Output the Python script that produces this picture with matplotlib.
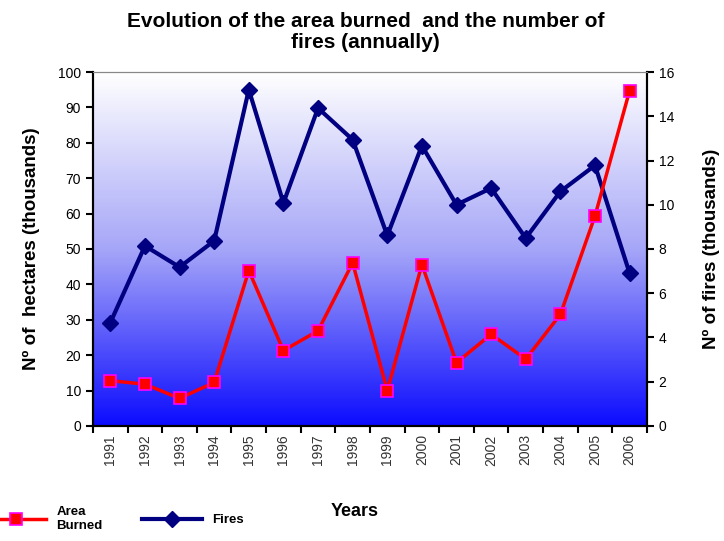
import numpy as np
import matplotlib.pyplot as plt
from matplotlib.colors import LinearSegmentedColormap

plt.rcParams['font.family'] = ['Liberation Sans', 'DejaVu Sans']

years = ['1991', '1992', '1993', '1994', '1995', '1996', '1997', '1998',
         '1999', '2000', '2001', '2002', '2003', '2004', '2005', '2006']
# area burned, thousands of hectares (left axis)
area = [12.8, 11.8, 7.8, 12.3, 43.9, 21.3, 26.9, 46.1,
        10.0, 45.6, 17.9, 25.9, 18.9, 31.5, 59.3, 94.7]
# number of fires, thousands (right axis)
fires = [4.67, 8.14, 7.18, 8.37, 15.2, 10.08, 14.37, 12.94,
         8.61, 12.67, 10.0, 10.75, 8.49, 10.6, 11.78, 6.91]

x = np.arange(len(years))

fig = plt.figure(figsize=(7.24, 5.41), dpi=100)
ax = fig.add_axes([0.1285, 0.2126, 0.765, 0.6543])
ax2 = ax.twinx()
# eje izquierdo (area) encima del derecho
ax2.set_zorder(1)
ax.set_zorder(2)
ax.patch.set_visible(False)

# fondo degradado blanco -> azul, en el eje de abajo
cmap = LinearSegmentedColormap.from_list('bg', [(0, '#0c0cff'), (0.5, '#a6a6f8'), (1, '#ffffff')])
grad = np.linspace(0, 1, 256).reshape(-1, 1)
ax2.imshow(grad, cmap=cmap, aspect='auto', origin='lower',
           extent=[0, 1, 0, 1], transform=ax2.transAxes, zorder=0)

l1, = ax.plot(x, area, color='#ff0000', lw=2.5, marker='s', ms=9,
              mfc='#ff0000', mec='#ff00ff', mew=1.2, zorder=3, label='Area\nBurned')
l2, = ax2.plot(x, fires, color='#000080', lw=3, marker='D', ms=8,
               mfc='#000080', mec='#000080', zorder=3, label='Fires')

ax.set_xlim(-0.5, 15.5)
ax2.set_xlim(-0.5, 15.5)
ax.set_ylim(0, 100)
ax2.set_ylim(0, 16)
ax.set_yticks(np.arange(0, 101, 10))
ax2.set_yticks(np.arange(0, 17, 2))

ax.set_xticks(np.arange(-0.5, 16, 1))
ax.set_xticklabels([])
ax.set_xticks(x, minor=True)
ax.set_xticklabels(years, minor=True, rotation=90, fontsize=10, color='#333333')
ax.tick_params(axis='x', which='minor', length=0, pad=6)
ax.tick_params(axis='x', which='major', length=5, width=1.5, direction='out')
ax.tick_params(axis='y', length=5, width=1.5, labelsize=10, colors='black')
ax2.tick_params(axis='y', length=5, width=1.5, labelsize=10, colors='black')

for a in (ax, ax2):
    a.spines['top'].set_color('#888888')
    a.spines['left'].set_linewidth(1.5)
    a.spines['right'].set_linewidth(1.5)
    a.spines['bottom'].set_linewidth(1.5)

ax.set_ylabel('Nº of  hectares (thousands)', fontsize=13.5, fontweight='bold', labelpad=13)
ax2.set_ylabel('Nº of fires (thousands)', fontsize=13.5, fontweight='bold', labelpad=21)
fig.text(0.49, 0.055, 'Years', fontsize=13, fontweight='bold', ha='center', va='center')
fig.suptitle('Evolution of the area burned  and the number of\nfires (annually)',
             x=0.505, y=0.978, fontsize=15, fontweight='bold', linespacing=1.12)

fig.legend(handles=[l1, l2], loc='lower left', bbox_to_anchor=(-0.035, -0.005),
           ncol=2, frameon=False, handlelength=4.5, columnspacing=3,
           prop={'weight': 'bold', 'size': 9.5})

fig.savefig('out.png', dpi=100)
